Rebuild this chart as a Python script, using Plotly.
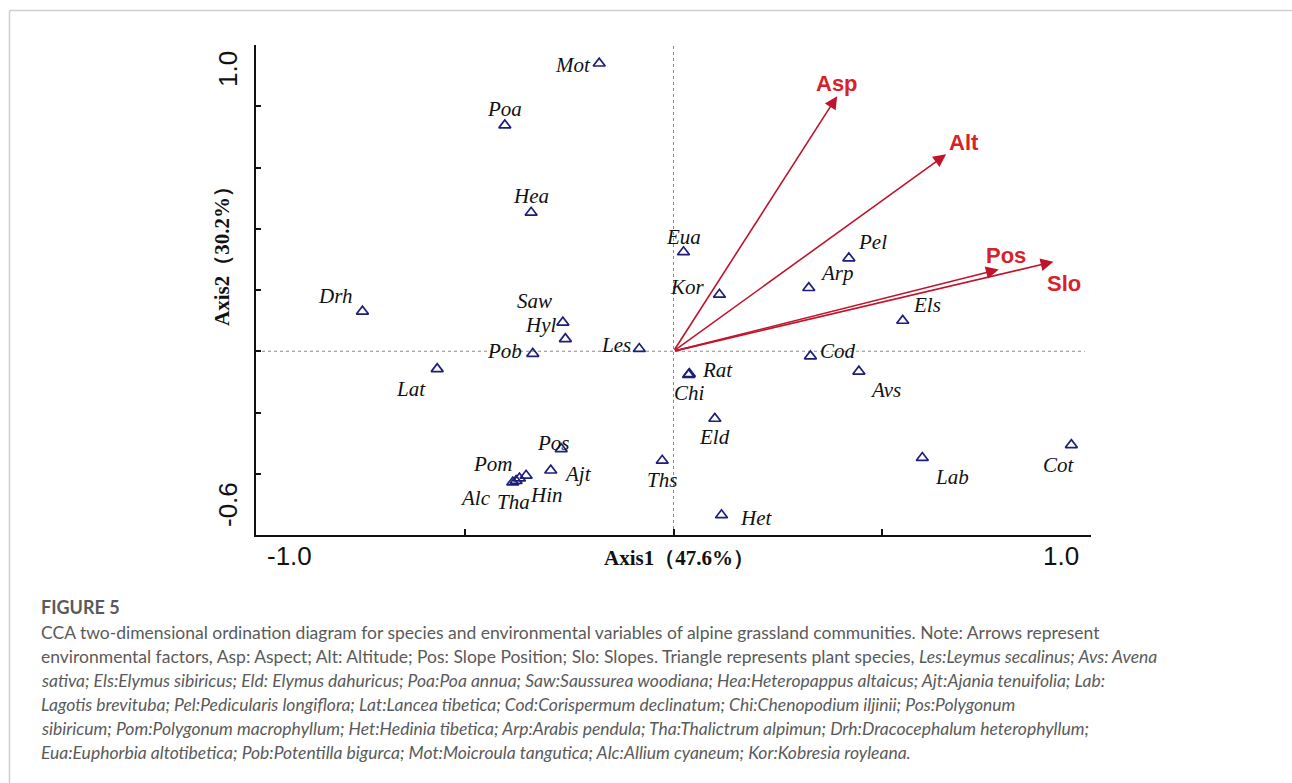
import plotly.graph_objects as go

# ---------------- data ----------------
species = ["Mot", "Poa", "Hea", "Drh", "Hyl", "Saw", "Pob", "Les", "Lat", "Pos",
           "Ajt", "Hin", "Pom", "Tha", "Alc", "Ths", "Rat", "Chi", "Eld", "Het",
           "Cod", "Avs", "Lab", "Cot", "Eua", "Kor", "Arp", "Pel", "Els"]
axis1 = [-0.178, -0.404, -0.341, -0.745, -0.265, -0.259, -0.337, -0.082, -0.566, -0.269,
         -0.294, -0.353, -0.369, -0.377, -0.385, -0.027, 0.038, 0.036, 0.099, 0.115,
         0.328, 0.444, 0.596, 0.953, 0.024, 0.110, 0.324, 0.420, 0.549]
axis2 = [0.940, 0.738, 0.453, 0.130, 0.094, 0.040, -0.008, 0.008, -0.058, -0.319,
         -0.389, -0.406, -0.415, -0.423, -0.428, -0.357, -0.074, -0.077, -0.220, -0.535,
         -0.016, -0.066, -0.348, -0.306, 0.324, 0.185, 0.207, 0.304, 0.100]

env_vars = ["Asp", "Alt", "Pos", "Slo"]
env_axis1 = [0.392, 0.653, 0.779, 0.910]
env_axis2 = [0.833, 0.643, 0.267, 0.292]

x_ticks = [-1.0, -0.5, 0.0, 0.5, 1.0]
y_ticks = [-0.6, -0.4, -0.2, 0.0, 0.2, 0.4, 0.6, 0.8, 1.0]
x_title = "Axis1（47.6%）"
y_title = "Axis2（30.2%）"

caption_head = "FIGURE 5"
caption_lines = [
    "CCA two-dimensional ordination diagram for species and environmental variables of alpine grassland communities. Note: Arrows represent",
    "environmental factors, Asp: Aspect; Alt: Altitude; Pos: Slope Position; Slo: Slopes. Triangle represents plant species, <i>Les:Leymus secalinus; Avs: Avena</i>",
    "<i>sativa; Els:Elymus sibiricus; Eld: Elymus dahuricus; Poa:Poa annua; Saw:Saussurea woodiana; Hea:Heteropappus altaicus; Ajt:Ajania tenuifolia; Lab:</i>",
    "<i>Lagotis brevituba; Pel:Pedicularis longiflora; Lat:Lancea tibetica; Cod:Corispermum declinatum; Chi:Chenopodium iljinii; Pos:Polygonum</i>",
    "<i>sibiricum; Pom:Polygonum macrophyllum; Het:Hedinia tibetica; Arp:Arabis pendula; Tha:Thalictrum alpimun; Drh:Dracocephalum heterophyllum;</i>",
    "<i>Eua:Euphorbia altotibetica; Pob:Potentilla bigurca; Mot:Moicroula tangutica; Alc:Allium cyaneum; Kor:Kobresia royleana.</i>",
]

# ---------------- label placement (styles) ----------------
# (xanchor, dx px, dy px up)
label_pos = {
    "Mot": ("right", -6, -2), "Poa": ("center", 0, 16), "Hea": ("center", 0, 17),
    "Drh": ("right", -8, 15), "Hyl": ("right", -5, -3), "Saw": ("right", -11, 38),
    "Pob": ("right", -9, 3), "Les": ("right", -6, 4), "Lat": ("center", -26, -20),
    "Pos": ("center", -8, 6), "Ajt": ("left", 11, -4), "Hin": ("left", 2, -19),
    "Pom": ("right", -4, 14), "Tha": ("center", -3, -21), "Alc": ("right", -20, -16),
    "Ths": ("center", 0, -19), "Rat": ("left", 11, 4), "Chi": ("center", 1, -18),
    "Eld": ("center", 0, -18), "Het": ("left", 16, -3), "Cod": ("left", 8, 5),
    "Avs": ("center", 27, -19), "Lab": ("center", 30, -19), "Cot": ("center", -12, -20),
    "Eua": ("center", 0, 15), "Kor": ("right", -12, 8), "Arp": ("left", 9, 15),
    "Pel": ("left", 7, 16), "Els": ("left", 8, 16),
}
env_label_pos = {
    "Asp": ("center", 0, 13), "Alt": ("left", 1, 12),
    "Pos": ("left", -15, 14), "Slo": ("left", -8, -22),
}

W, H = 1292, 783
L, R, T, B = 256, 201, 45, 248
PW, PH = W - L - R, H - T - B


def px(xpix):
    return (xpix - L) / PW


def py(ypix):
    return (H - B - ypix) / PH


arrow_color = "#C0142C"
env_text_color = "#D8222A"
marker_color = "#1E1E78"
serif = "Liberation Serif, Times New Roman, serif"
sans = "Liberation Sans, Arial, sans-serif"

fig = go.Figure()

fig.add_trace(go.Scatter(
    x=axis1, y=axis2, mode="markers", text=species, hoverinfo="text",
    marker=dict(symbol="triangle-up-open", size=10.5, color=marker_color,
                line=dict(width=1.7, color=marker_color)),
    showlegend=False, cliponaxis=False,
))

annotations = []
shapes = []

# zero lines (dotted)
shapes.append(dict(type="line", xref="x", yref="y", x0=-1.0, x1=0.985, y0=0, y1=0,
                   line=dict(color="#8a8a8a", width=1, dash="dot"), layer="below"))
shapes.append(dict(type="line", xref="x", yref="paper", x0=0, x1=0, y0=0, y1=1,
                   line=dict(color="#8a8a8a", width=1, dash="dot"), layer="below"))

# species labels
for name, xv, yv in zip(species, axis1, axis2):
    anc, dx, dy = label_pos[name]
    annotations.append(dict(x=xv, y=yv, xref="x", yref="y", text="<i>" + name + "</i>",
                            showarrow=False, xanchor=anc, yanchor="middle",
                            xshift=dx, yshift=dy,
                            font=dict(family=serif, size=21, color="#111111")))

# environmental arrows
for name, xv, yv in zip(env_vars, env_axis1, env_axis2):
    annotations.append(dict(x=xv, y=yv, xref="x", yref="y", ax=0, ay=0, axref="x", ayref="y",
                            text="", showarrow=True, arrowhead=2, arrowsize=1.6,
                            arrowwidth=1.6, arrowcolor=arrow_color, standoff=0))
    anc, dx, dy = env_label_pos[name]
    annotations.append(dict(x=xv, y=yv, xref="x", yref="y", text="<b>" + name + "</b>",
                            showarrow=False, xanchor=anc, yanchor="middle",
                            xshift=dx, yshift=dy,
                            font=dict(family=sans, size=22, color=env_text_color)))

# tick labels (as in reference, offset from ticks)
tick_font = dict(family=sans, size=26, color="#111111")
annotations += [
    dict(xref="paper", yref="paper", x=px(289), y=py(556), text="-1.0", showarrow=False,
         xanchor="center", yanchor="middle", font=tick_font),
    dict(xref="paper", yref="paper", x=px(1061), y=py(556), text="1.0", showarrow=False,
         xanchor="center", yanchor="middle", font=tick_font),
    dict(xref="paper", yref="paper", x=px(228), y=py(69), text="1.0", showarrow=False,
         xanchor="center", yanchor="middle", textangle=-90, font=tick_font),
    dict(xref="paper", yref="paper", x=px(228), y=py(505), text="-0.6", showarrow=False,
         xanchor="center", yanchor="middle", textangle=-90, font=tick_font),
    dict(xref="paper", yref="paper", x=px(679), y=py(558), text="<b>" + x_title + "</b>",
         showarrow=False, xanchor="center", yanchor="middle",
         font=dict(family=serif, size=21, color="#111111")),
    dict(xref="paper", yref="paper", x=px(222), y=py(251), text="<b>" + y_title + "</b>",
         showarrow=False, xanchor="center", yanchor="middle", textangle=-90,
         font=dict(family=serif, size=21, color="#111111")),
]

# caption
cap_font = "Lato, Open Sans, sans-serif"
annotations.append(dict(xref="paper", yref="paper", x=px(39), y=py(607), text="<b>" + caption_head + "</b>",
                        showarrow=False, xanchor="left", yanchor="middle",
                        font=dict(family=cap_font, size=18, color="#5a5a5a")))
for i, line in enumerate(caption_lines):
    annotations.append(dict(xref="paper", yref="paper", x=px(39), y=py(632 + 24 * i), text=line,
                            showarrow=False, xanchor="left", yanchor="middle", align="left",
                            font=dict(family=cap_font, size=17.5, color="#5a5a5a")))

# outer frame lines (light gray)
shapes.append(dict(type="line", xref="paper", yref="paper", x0=px(9.5), x1=px(W), y0=py(10.5), y1=py(10.5),
                   line=dict(color="#cfcfcf", width=1.5)))
shapes.append(dict(type="line", xref="paper", yref="paper", x0=px(9.5), x1=px(9.5), y0=py(10.5), y1=py(H),
                   line=dict(color="#cfcfcf", width=1.5)))

fig.update_layout(
    width=W, height=H,
    margin=dict(l=L, r=R, t=T, b=B, pad=0),
    paper_bgcolor="white", plot_bgcolor="white",
    annotations=annotations, shapes=shapes,
    xaxis=dict(range=[-1.0, 1.0], tickvals=x_ticks, showticklabels=False, ticks="inside",
               ticklen=6, tickwidth=1.5, tickcolor="#111", showline=True, linecolor="#111",
               linewidth=2.2, showgrid=False, zeroline=False, fixedrange=True),
    yaxis=dict(range=[-0.6, 1.0], tickvals=y_ticks, showticklabels=False, ticks="inside",
               ticklen=5, tickwidth=1.5, tickcolor="#111", showline=True, linecolor="#111",
               linewidth=2.2, showgrid=False, zeroline=False, fixedrange=True),
    showlegend=False,
)

fig.write_html("out.html", config={"displayModeBar": False},
               post_script="document.body.style.margin='0';document.body.style.overflow='hidden';")
